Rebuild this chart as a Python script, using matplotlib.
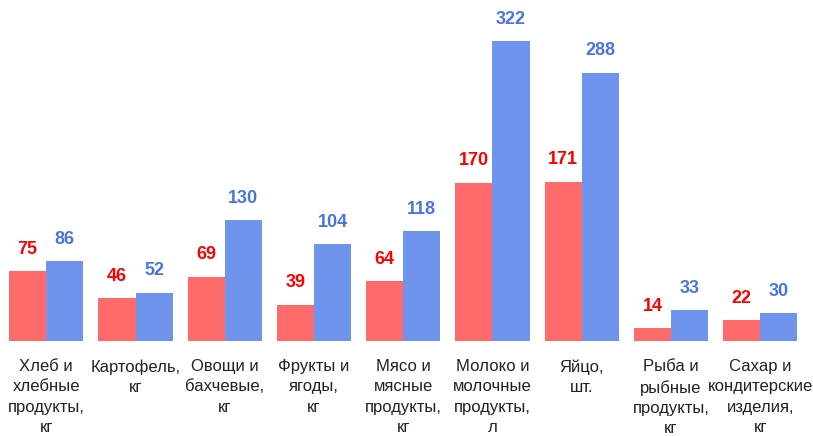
import matplotlib
matplotlib.use("Agg")
import matplotlib.pyplot as plt
import numpy as np

categories = ["Хлеб и\nхлебные\nпродукты,\nкг", "Картофель,\nкг", "Овощи и\nбахчевые,\nкг",
              "Фрукты и\nягоды,\nкг", "Мясо и\nмясные\nпродукты,\nкг", "Молоко и\nмолочные\nпродукты,\nл",
              "Яйцо,\nшт.", "Рыба и\nрыбные\nпродукты,\nкг", "Сахар и\nкондитерские\nизделия,\nкг"]
series_red = [75, 46, 69, 39, 64, 170, 171, 14, 22]
series_blue = [86, 52, 130, 104, 118, 322, 288, 33, 30]

plt.rcParams['font.family'] = ['Liberation Sans', 'DejaVu Sans']

fig = plt.figure(figsize=(8.13, 4.36), dpi=100)
ax = fig.add_axes([0.002, 0.218, 0.988, 0.782])

x = np.arange(len(categories))
w = 0.415
red_bar = '#FF6B6B'
blue_bar = '#6F94EE'
red_txt = '#FF0000'
blue_txt = '#4A74E4'

ax.bar(x - w/2, series_red, w, color=red_bar)
ax.bar(x + w/2, series_blue, w, color=blue_bar)

for xi, r, b in zip(x, series_red, series_blue):
    ax.annotate(str(r), (xi - w/2, r), xytext=(0, 9.5), textcoords='offset points',
                ha='center', va='bottom', color=red_txt, fontsize=13, fontweight='bold')
    ax.annotate(str(b), (xi + w/2, b), xytext=(0, 9.5), textcoords='offset points',
                ha='center', va='bottom', color=blue_txt, fontsize=13, fontweight='bold')

ax.set_xlim(-0.5, len(categories) - 0.5)
ax.set_ylim(0, 366)
ax.set_xticks(x)
ax.set_xticklabels(categories, fontsize=12, linespacing=1.45, color='#222222')
ax.tick_params(axis='x', length=0, pad=13)
ax.set_yticks([])
for s in ax.spines.values():
    s.set_visible(False)

fig.savefig("out.png", dpi=100)
